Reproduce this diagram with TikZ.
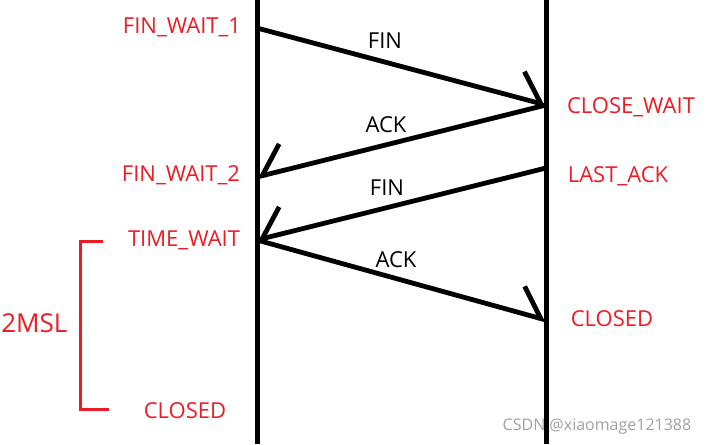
\documentclass[tikz,border=0pt]{standalone}
\usepackage{fontspec}
\setmainfont{Open Sans}
\usetikzlibrary{arrows.meta}
\definecolor{StateRed}{RGB}{237,28,36}
\definecolor{MarkGray}{RGB}{160,160,160}

\begin{document}
\begin{tikzpicture}[x=0.75pt,y=-0.75pt,
  state/.style={text=StateRed,font=\fontsize{16.5}{19}\selectfont,inner sep=0pt,anchor=base},
  msg/.style={font=\fontsize{16.5}{19}\selectfont,inner sep=0pt,anchor=base},
  segL/.style={line width=3.6pt,-{Straight Barb[left,angle=96:27pt,line cap=butt]}},
  segR/.style={line width=3.6pt,-{Straight Barb[right,angle=96:27pt,line cap=butt]}}]
\useasboundingbox (0,0) rectangle (709,444);
% watermark
\node[text=MarkGray,font=\fontsize{12}{14}\selectfont,inner sep=0pt,anchor=base] (mark) at (597,430) {CSDN @xiaomage121388};
% two sides
\coordinate (ltop) at (257,0);
\coordinate (lbot) at (257,444);
\coordinate (rtop) at (546,0);
\coordinate (rbot) at (546,444);
\draw[line width=3.75pt] (ltop)--(lbot);
\draw[line width=3.75pt] (rtop)--(rbot);
% points on the lines
\coordinate (p1) at (257,28);
\coordinate (p2) at (546,105);
\coordinate (p3) at (257,177);
\coordinate (p4) at (546,168);
\coordinate (p5) at (257,240);
\coordinate (p6) at (546,320);
\draw[segL] (p1)--(p2);
\draw[segR] (p2)--(p3);
\draw[segR] (p4)--(p5);
\draw[segL] (p5)--(p6);
% messages
\node[msg] (fin1) at (385,48) {FIN};
\node[msg] (ack1) at (386,132) {ACK};
\node[msg] (fin2) at (387,195) {FIN};
\node[msg] (ack2) at (396,267) {ACK};
% states
\node[state] (fw1) at (182,33) {FIN\_WAIT\_1};
\node[state] (cw) at (631,113) {CLOSE\_WAIT};
\node[state] (fw2) at (181,181) {FIN\_WAIT\_2};
\node[state] (la) at (618,182) {LAST\_ACK};
\node[state] (tw) at (184,246) {TIME\_WAIT};
\node[state] (clr) at (612,326) {CLOSED};
\node[state] (cll) at (185,418) {CLOSED};
\node[state,anchor=base west,font=\fontsize{19.5}{23}\selectfont] (msl) at (1,332) {2MSL};
% 2MSL bracket
\coordinate (b1) at (103,241);
\coordinate (b2) at (80,241);
\coordinate (b3) at (80,409);
\coordinate (b4) at (109,409);
\draw[StateRed,line width=2.25pt] (b1)--(b2)--(b3)--(b4);
\end{tikzpicture}
\end{document}
